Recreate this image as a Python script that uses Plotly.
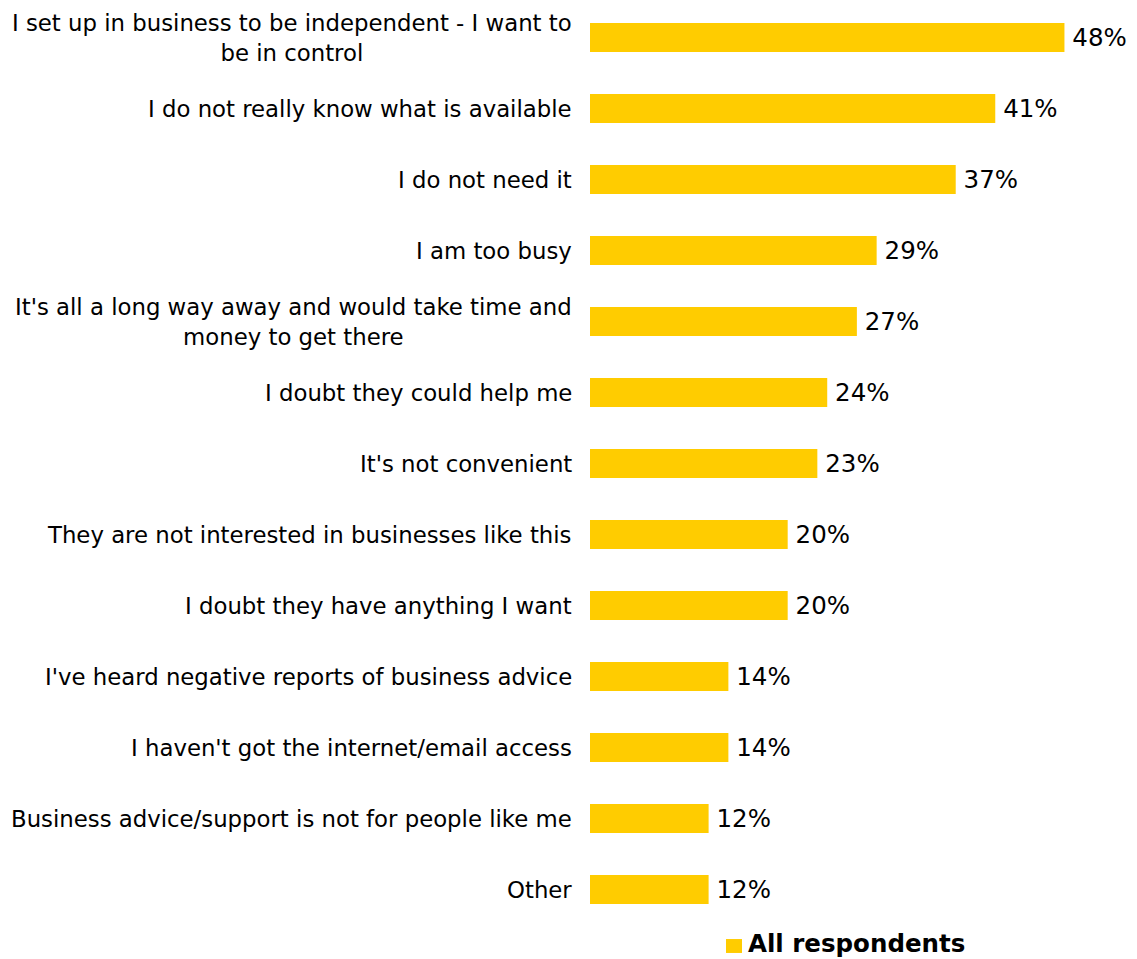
import plotly.graph_objects as go

# Reasons given for not using business advice / support
categories = [
    "I set up in business to be independent - I want to<br>be in control",
    "I do not really know what is available",
    "I do not need it",
    "I am too busy",
    "It's all a long way away and would take time and<br>money to get there",
    "I doubt they could help me",
    "It's not convenient",
    "They are not interested in businesses like this",
    "I doubt they have anything I want",
    "I've heard negative reports of business advice",
    "I haven't got the internet/email access",
    "Business advice/support is not for people like me",
    "Other",
]
values = [48, 41, 37, 29, 27, 24, 23, 20, 20, 14, 14, 12, 12]
series_name = "All respondents"

BAR_COLOR = "#FFCC00"
TEXT_COLOR = "#000000"
FONT = "DejaVu Sans"

fig = go.Figure()
fig.add_trace(go.Bar(
    x=values,
    y=list(range(len(categories))),
    orientation="h",
    name=series_name,
    marker=dict(color=BAR_COLOR, line=dict(width=0)),
    texttemplate="\u2009%{x}%",
    textposition="outside",
    textfont=dict(family=FONT, size=24.5, color=TEXT_COLOR),
    constraintext="none",
    cliponaxis=False,
    hoverinfo="skip",
    showlegend=False,
))

# Category labels: right-aligned against the bars, wrapped labels centred
annotations = []
for i, label in enumerate(categories):
    annotations.append(dict(
        x=0, y=i, xref="x", yref="y",
        text=label,
        showarrow=False,
        xanchor="right", yanchor="middle",
        align="center",
        xshift=-16,
        font=dict(family=FONT, size=22.8, color=TEXT_COLOR),
    ))

# Legend key below the bars
annotations.append(dict(
    x=0.289, y=-0.0357, xref="paper", yref="paper",
    text="<b>" + series_name + "</b>",
    showarrow=False,
    xanchor="left", yanchor="bottom",
    borderpad=0, borderwidth=0,
    font=dict(family=FONT, size=24.5, color=TEXT_COLOR),
))
shapes = [dict(
    type="rect", xref="paper", yref="paper",
    x0=0.2486, x1=0.2779, y0=-0.0303, y1=-0.0152,
    fillcolor=BAR_COLOR, line=dict(width=0),
)]

fig.update_layout(
    width=1137, height=959,
    margin=dict(l=590, r=0, t=2, b=34, pad=0),
    paper_bgcolor="white",
    plot_bgcolor="white",
    bargap=0.59,
    showlegend=False,
    xaxis=dict(range=[0, 55.34], visible=False, fixedrange=True),
    yaxis=dict(
        type="linear",
        range=[len(categories) - 0.5, -0.5],
        visible=False,
        fixedrange=True,
    ),
    annotations=annotations,
    shapes=shapes,
)

fig.write_html("out.html")
